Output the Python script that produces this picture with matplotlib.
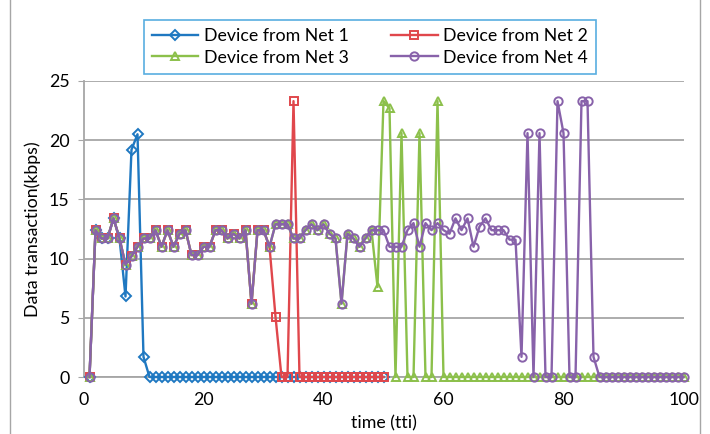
import matplotlib
matplotlib.use("Agg")
import matplotlib.pyplot as plt
from matplotlib.lines import Line2D

plt.rcParams['font.family'] = ['Lato', 'DejaVu Sans']

t_short = list(range(1, 51))
t_long = list(range(1, 101))

shared = [0, 12.4, 11.7, 11.7, 13.4, 11.7, 9.5, 10.2, 11.0, 11.7,
          11.7, 12.4, 11.0, 12.4, 11.0, 12.1, 12.4, 10.3, 10.3, 11.0,
          11.0, 12.4, 12.4, 11.7, 12.1, 11.7, 12.4, 6.2, 12.4, 12.4,
          11.0, 12.9, 12.9, 12.9, 11.7, 11.7, 12.4, 12.9, 12.4, 12.9,
          12.1, 11.7, 6.2, 12.1, 11.7, 11.0, 11.7, 12.4, 12.4, 12.4]

net1 = shared[:6] + [6.8, 19.2, 20.5, 1.7] + [0] * 40
net2 = shared[:31] + [5.1, 0, 0, 23.3] + [0] * 15
net3 = shared[:48] + [7.6, 23.3, 22.7, 0, 20.6, 0, 0, 20.6, 0, 0, 23.3] + [0] * 41
net4 = shared + [11.0, 11.0, 11.0, 12.4, 13.0, 11.0, 13.0, 12.4, 13.0, 12.4,
                 12.1, 13.4, 12.4, 13.4, 11.0, 12.7, 13.4, 12.4, 12.4, 12.4,
                 11.6, 11.6, 1.7, 20.6, 0, 20.6, 0, 0, 23.3, 20.6,
                 0, 0, 23.3, 23.3, 1.7] + [0] * 15

labels = ["Device from Net 1", "Device from Net 2", "Device from Net 3", "Device from Net 4"]
colors = ["#1F78C1", "#E0474C", "#8CC04B", "#8862AA"]
markers = ["D", "s", "^", "o"]
msizes = [4.8, 5.8, 6.3, 6.0]

fig = plt.figure(figsize=(7.1, 4.34), dpi=100)
ax = fig.add_axes([83.5 / 710, 1 - 377 / 434, 600 / 710, 296 / 434])

series = [(t_short, net1), (t_short, net2), (t_long, net3), (t_long, net4)]
handles = []
for (x, y), lab, c, m, ms in zip(series, labels, colors, markers, msizes):
    h, = ax.plot(x, y, color=c, lw=1.7, marker=m, ms=ms, mfc='none',
                 mec=c, mew=1.4, label=lab, clip_on=False, zorder=3)
    handles.append(h)

fs = 12.8
ax.set_xlim(0, 100)
ax.set_ylim(0, 25)
ax.set_xticks([0, 20, 40, 60, 80, 100])
ax.set_yticks([0, 5, 10, 15, 20, 25])
ax.grid(axis='y', color='#A6A6A6', lw=1.3, zorder=0)
ax.set_axisbelow(True)
for s in ['top', 'right']:
    ax.spines[s].set_visible(False)
ax.spines['left'].set_color('#A6A6A6')
ax.spines['bottom'].set_color('#A6A6A6')
ax.spines['left'].set_linewidth(1.3)
ax.spines['bottom'].set_linewidth(1.3)
ax.tick_params(axis='x', length=0, labelsize=fs, pad=11)
ax.tick_params(axis='y', length=4, color='#A6A6A6', labelsize=fs, pad=6)
ax.set_xlabel("time (tti)", fontsize=fs, labelpad=5)
ax.set_ylabel("Data transaction(kbps)", fontsize=fs, labelpad=6)

order = [0, 2, 1, 3]
leg = fig.legend([handles[i] for i in order], [labels[i] for i in order],
                 ncol=2, loc='center', bbox_to_anchor=(370 / 710, 1 - 47 / 434),
                 fontsize=fs, frameon=True, fancybox=False, handlelength=2.6,
                 columnspacing=2.4, handletextpad=0.3, borderpad=0.45,
                 labelspacing=0.3, borderaxespad=0)
leg.get_frame().set_edgecolor('#2E9AD8')
leg.get_frame().set_linewidth(1.2)

# outer chart border (left / right)
fig.add_artist(Line2D([10 / 710, 10 / 710], [0, 1], color='#A6A6A6', lw=1, transform=fig.transFigure))
fig.add_artist(Line2D([700 / 710, 700 / 710], [0, 1], color='#A6A6A6', lw=1, transform=fig.transFigure))

fig.savefig("out.png", dpi=100)
